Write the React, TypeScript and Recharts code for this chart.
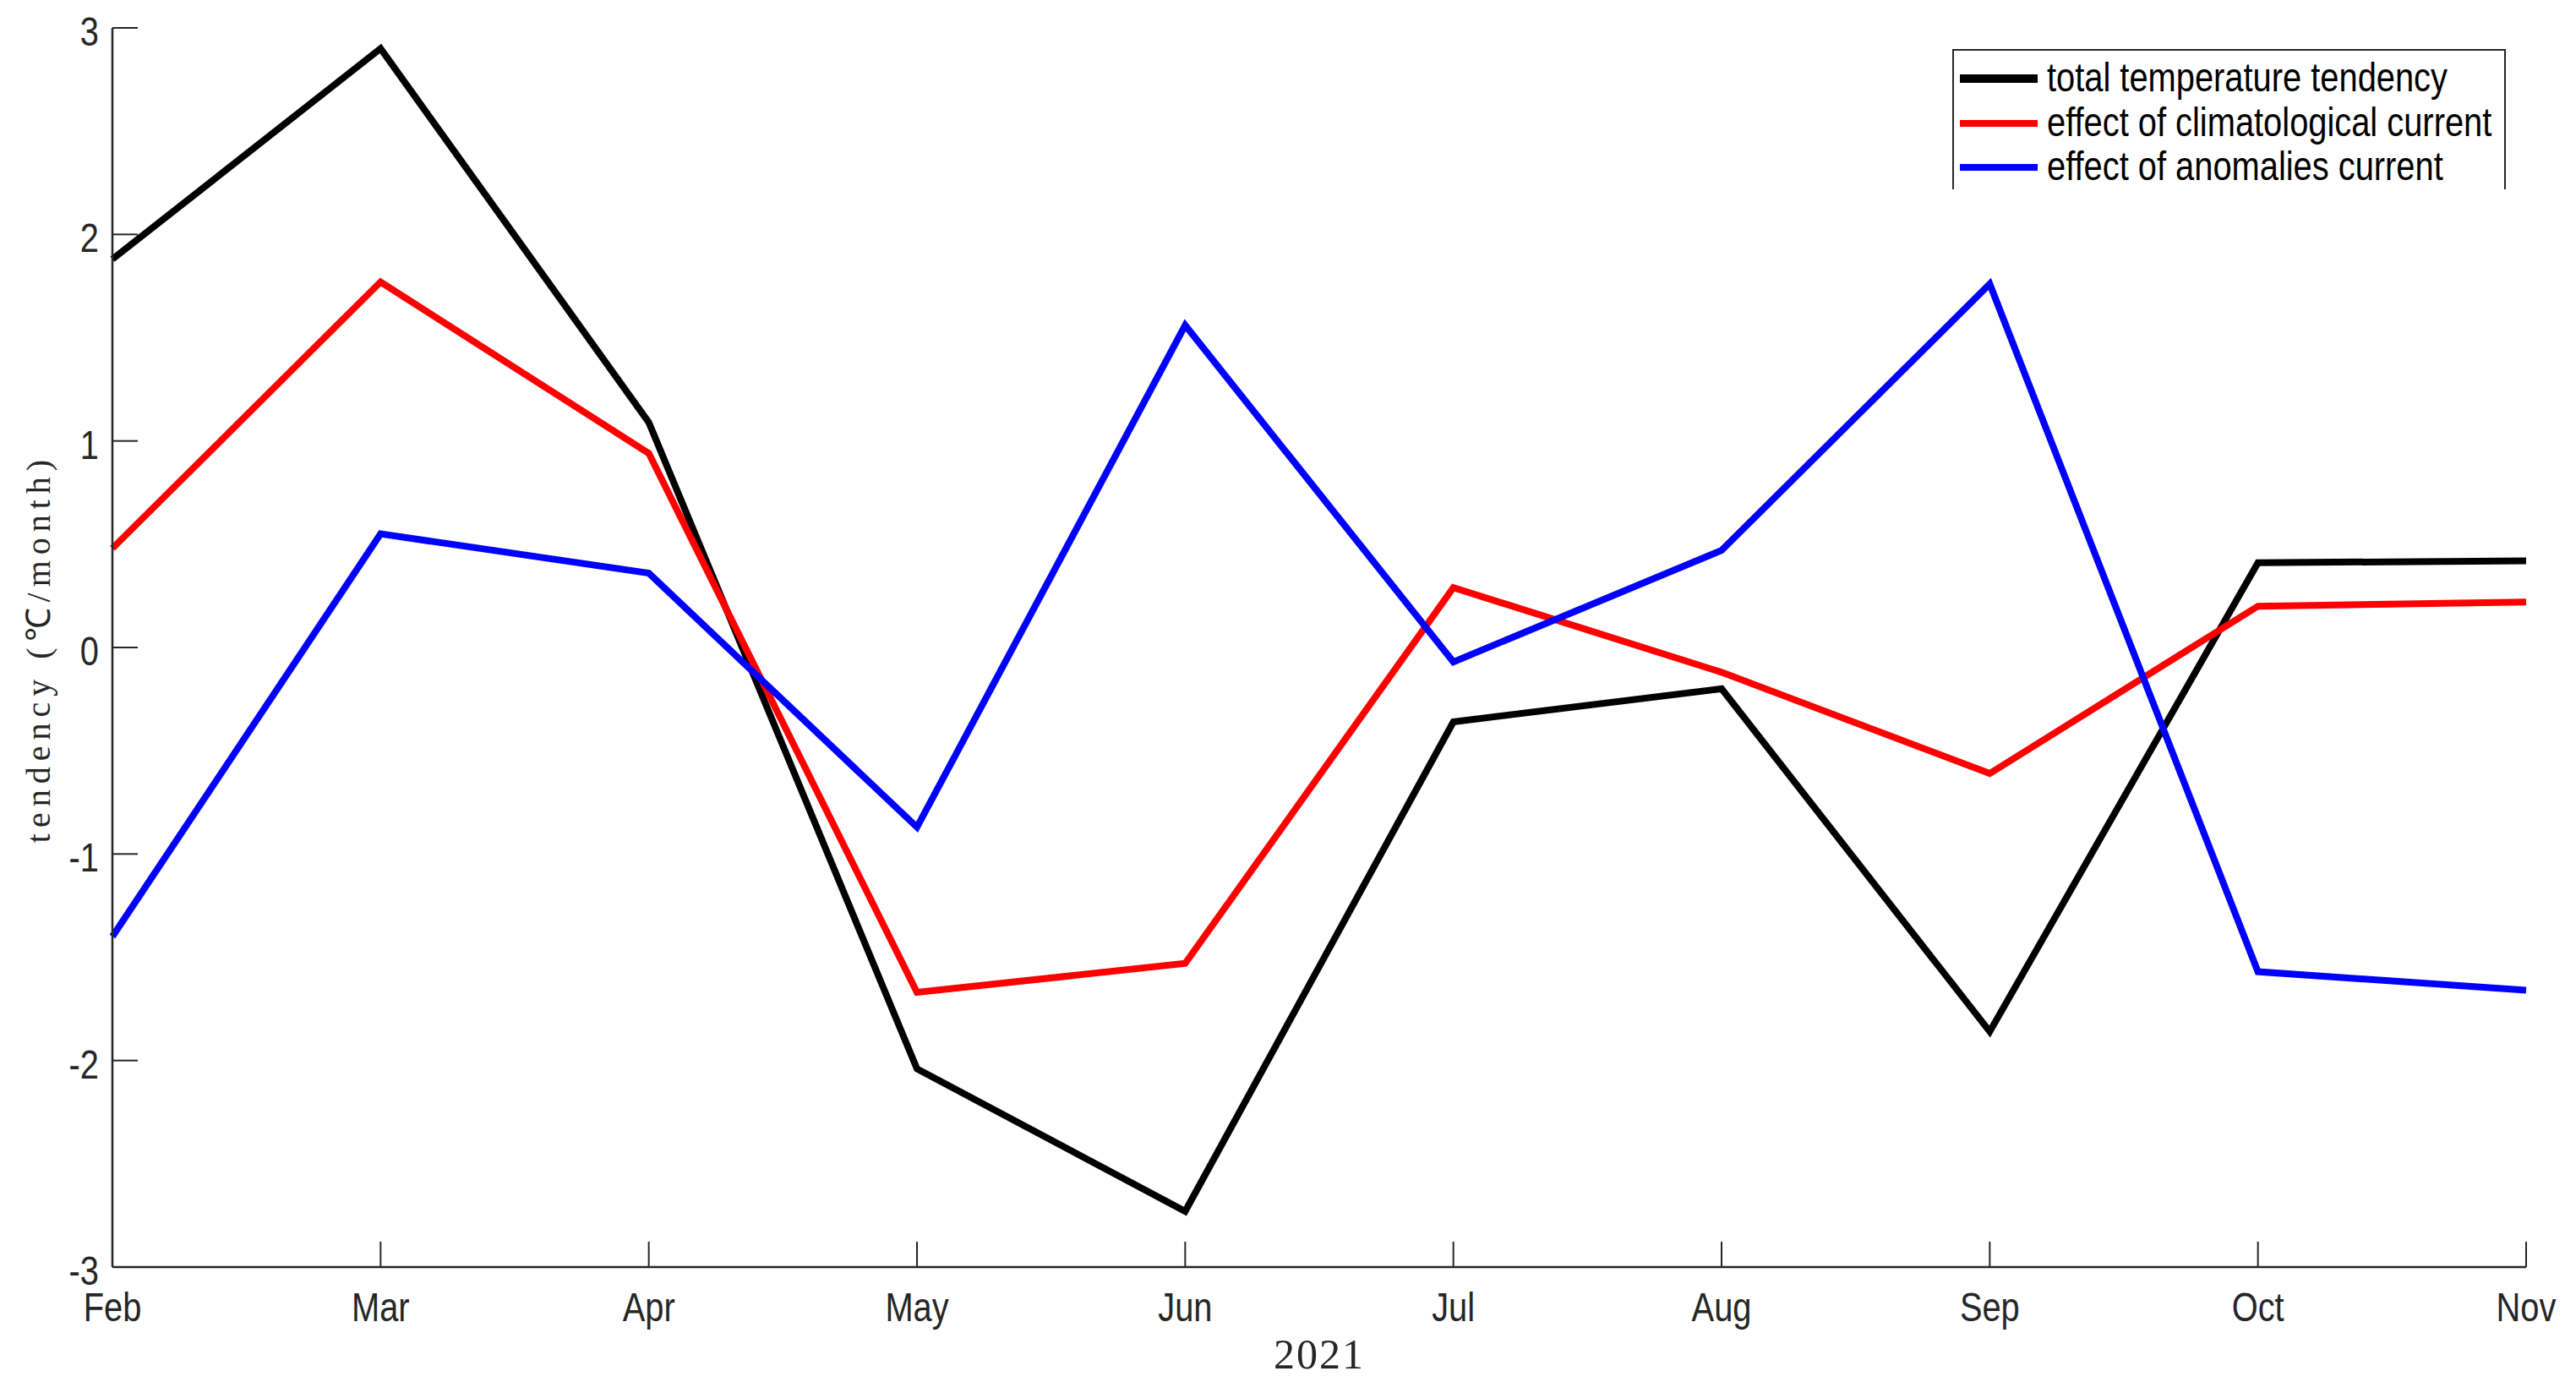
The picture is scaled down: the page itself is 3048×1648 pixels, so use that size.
import { CartesianGrid, Label, Line, LineChart, XAxis, YAxis } from "recharts"

const months = ["Feb", "Mar", "Apr", "May", "Jun", "Jul", "Aug", "Sep", "Oct", "Nov"]
const totalTendency = [1.88, 2.9, 1.09, -2.04, -2.73, -0.36, -0.2, -1.86, 0.41, 0.42]
const climatological = [0.48, 1.77, 0.94, -1.67, -1.53, 0.29, -0.12, -0.61, 0.2, 0.22]
const anomalies = [-1.4, 0.55, 0.36, -0.87, 1.56, -0.07, 0.47, 1.76, -1.57, -1.66]
const yTicks = [-3, -2, -1, 0, 1, 2, 3]

const seriesNames = ["total temperature tendency", "effect of climatological current", "effect of anomalies current"]
const seriesKeys = ["total", "clim", "anom"]
const seriesColors = ["#000000", "#ff0000", "#0000ff"]

const data = months.map((m, i) => ({ month: m, total: totalTendency[i], clim: climatological[i], anom: anomalies[i] }))

const axisColor = "#262626"
const sans = "'Liberation Sans', Arial, sans-serif"
const serif = "'Liberation Serif', 'Times New Roman', serif"
const tickLen = 30

function SansText({ x, y, anchor, children }: { x: number; y: number; anchor: "start" | "middle" | "end"; children: any }) {
  return (
    <g transform={`translate(${x},${y}) scale(0.83,1)`}>
      <text x={0} y={0} textAnchor={anchor} dominantBaseline="central" fontSize={48} fontFamily={sans} fill={axisColor}>
        {children}
      </text>
    </g>
  )
}

function BottomTick(props: any) {
  const { x, y, payload } = props
  return (
    <g>
      <line x1={x} x2={x} y1={y} y2={y - tickLen} stroke={axisColor} strokeWidth={2} />
      <SansText x={x} y={y + 47} anchor="middle">{payload.value}</SansText>
    </g>
  )
}

function TopTick(props: any) {
  const { x, y } = props
  return <line x1={x} x2={x} y1={y} y2={y + tickLen} stroke={axisColor} strokeWidth={2} />
}

function LeftTick(props: any) {
  const { x, y, payload } = props
  return (
    <g>
      <line x1={x} x2={x + tickLen} y1={y} y2={y} stroke={axisColor} strokeWidth={2} />
      <SansText x={x - 16} y={y + 4} anchor="end">{payload.value}</SansText>
    </g>
  )
}

function RightTick(props: any) {
  const { x, y } = props
  return <line x1={x} x2={x - tickLen} y1={y} y2={y} stroke={axisColor} strokeWidth={2} />
}

function ChartLegend() {
  return (
    <div
      style={{
        position: "absolute",
        left: 2302,
        top: 50,
        width: 655,
        height: 166,
        background: "#fff",
        borderTop: `2px solid ${axisColor}`,
        borderLeft: `2px solid ${axisColor}`,
        borderRight: `2px solid ${axisColor}`,
        boxSizing: "border-box",
      }}
    >
      {seriesNames.map((name, i) => (
        <div key={name} style={{ position: "absolute", left: 0, top: 33 + i * 52.5, height: 0, width: "100%" }}>
          <div style={{ position: "absolute", left: 7, top: i === 0 ? -5 : -4, width: 92, height: i === 0 ? 10 : 8, background: seriesColors[i] }} />
          <div
            style={{
              position: "absolute",
              left: 110,
              top: -29,
              fontFamily: sans,
              fontSize: 48,
              lineHeight: "56px",
              whiteSpace: "nowrap",
              color: "#000",
              transform: "scaleX(0.83)",
              transformOrigin: "left center",
            }}
          >
            {name}
          </div>
        </div>
      ))}
    </div>
  )
}

export default function App() {
  return (
    <div style={{ position: "relative", width: 3032, height: 1632, background: "#fff" }}>
      <LineChart width={3032} height={1632} data={data} margin={{ top: 25, right: 51, bottom: 0, left: 0 }}>
        <CartesianGrid stroke="none" />
        <XAxis
          dataKey="month"
          height={141}
          padding={{ left: 0, right: 0 }}
          interval={0}
          axisLine={{ stroke: axisColor, strokeWidth: 2.5 }}
          tickLine={false}
          tickSize={0}
          tickMargin={0}
          tick={<BottomTick />}
        >
          <Label
            content={() => (
              <text x={1553} y={1594} textAnchor="middle" dominantBaseline="central" fontFamily={serif} fontSize={50} letterSpacing={2} fill={axisColor}>
                2021
              </text>
            )}
          />
        </XAxis>
        <XAxis
          xAxisId="top"
          orientation="top"
          dataKey="month"
          height={0}
          padding={{ left: 0, right: 0 }}
          interval={0}
          axisLine={{ stroke: axisColor, strokeWidth: 2.5 }}
          tickLine={false}
          tickSize={0}
          tickMargin={0}
          tick={<TopTick />}
        />
        <YAxis
          domain={[-3, 3]}
          ticks={yTicks}
          width={125}
          interval={0}
          axisLine={{ stroke: axisColor, strokeWidth: 2.5 }}
          tickLine={false}
          tickSize={0}
          tickMargin={0}
          tick={<LeftTick />}
        >
          <Label
            content={() => (
              <text
                x={37}
                y={759}
                transform="rotate(-90 37 759)"
                textAnchor="middle"
                dominantBaseline="central"
                fontFamily={serif}
                fontSize={40}
                letterSpacing={7}
                fill={axisColor}
              >
                tendency (℃/month)
              </text>
            )}
          />
        </YAxis>
        <YAxis
          yAxisId="right"
          orientation="right"
          domain={[-3, 3]}
          ticks={yTicks}
          width={0}
          interval={0}
          axisLine={{ stroke: axisColor, strokeWidth: 2.5 }}
          tickLine={false}
          tickSize={0}
          tickMargin={0}
          tick={<RightTick />}
        />
        {seriesKeys.map((key, i) => (
          <Line
            key={key}
            type="linear"
            dataKey={key}
            name={seriesNames[i]}
            stroke={seriesColors[i]}
            strokeWidth={8}
            dot={false}
            activeDot={false}
            isAnimationActive={false}
          />
        ))}
      </LineChart>
      <ChartLegend />
    </div>
  )
}
